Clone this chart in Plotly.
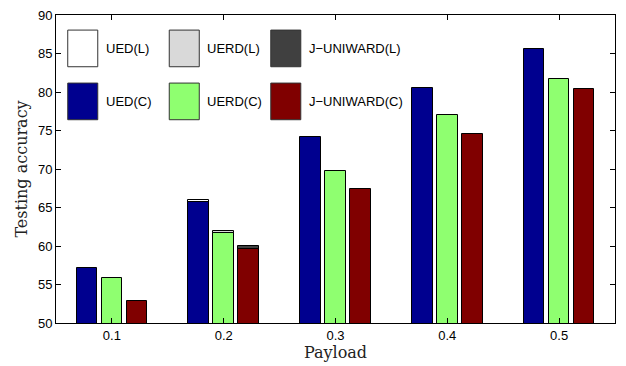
import plotly.graph_objects as go

# Payload groups on the x axis
payload = [0.1, 0.2, 0.3, 0.4, 0.5]
tick_labels = ["0.1", "0.2", "0.3", "0.4", "0.5"]

# Testing accuracy (%) for each steganography method
ued_l = [57.0, 66.0, 74.0, 80.4, 85.4]
uerd_l = [55.7, 61.9, 69.5, 76.9, 81.5]
juni_l = [52.6, 59.96, 67.2, 74.3, 80.2]
ued_c = [57.19, 65.7, 74.13, 80.54, 85.53]
uerd_c = [55.89, 61.64, 69.69, 77.02, 81.64]
juni_c = [52.83, 59.62, 67.38, 74.50, 80.38]

names_l = ["UED(L)", "UERD(L)", "J\u2212UNIWARD(L)"]
names_c = ["UED(C)", "UERD(C)", "J\u2212UNIWARD(C)"]
colors_l = ["#ffffff", "#d9d9d9", "#404040"]
colors_c = ["#00008f", "#8fff70", "#800000"]

series_l = [ued_l, uerd_l, juni_l]
series_c = [ued_c, uerd_c, juni_c]

bar_w = 0.0185
step = 0.0224

fig = go.Figure()
# L bars sit behind, C bars drawn on top at the same positions
for group, cols, names in ((series_l, colors_l, names_l), (series_c, colors_c, names_c)):
    for i, (vals, col, nm) in enumerate(zip(group, cols, names)):
        fig.add_trace(go.Bar(
            x=payload, y=vals, name=nm,
            width=bar_w, offset=(i - 1) * step - bar_w / 2,
            marker=dict(color=col, line=dict(color="#000000", width=1)),
            base=0, showlegend=False,
        ))

# Legend drawn as large swatches inside the axes
shapes = []
annotations = []
x0, sw_w, col_gap = 0.021, 0.0537, 0.1816
rows = [(0.951, 0.832), (0.779, 0.660)]
for r, (names, cols) in enumerate(((names_l, colors_l), (names_c, colors_c))):
    top, bot = rows[r]
    for j, (nm, col) in enumerate(zip(names, cols)):
        left = x0 + j * col_gap
        shapes.append(dict(type="rect", xref="paper", yref="paper",
                           x0=left, x1=left + sw_w, y0=bot, y1=top,
                           fillcolor=col, line=dict(color="#333333", width=1)))
        annotations.append(dict(xref="paper", yref="paper", x=left + sw_w + 0.011,
                                y=(top + bot) / 2, text=nm, showarrow=False,
                                xanchor="left", yanchor="middle",
                                font=dict(family="Liberation Sans, Arial", size=13, color="#000000")))

title_font = dict(family="DejaVu Serif", size=16, color="#222222")

fig.update_layout(
    width=626, height=366,
    margin=dict(l=56, r=11, t=8, b=40),
    paper_bgcolor="#ffffff", plot_bgcolor="#ffffff",
    barmode="overlay", bargap=0,
    shapes=shapes, annotations=annotations,
    font=dict(family="Liberation Sans, Arial", size=13, color="#000000"),
    xaxis=dict(
        range=[0.05, 0.55], tickvals=payload, ticktext=tick_labels,
        ticks="inside", ticklen=5, tickcolor="#000000",
        showline=True, linecolor="#000000", linewidth=1, mirror="ticks",
        showgrid=False, zeroline=False,
        title=dict(text="Payload", font=title_font, standoff=4),
    ),
    yaxis=dict(
        range=[50, 90], dtick=5,
        ticks="inside", ticklen=5, tickcolor="#000000",
        showline=True, linecolor="#000000", linewidth=1, mirror="ticks",
        showgrid=False, zeroline=False,
        title=dict(text="Testing accuracy", font=title_font, standoff=6),
    ),
)

fig.write_html("out.html")
